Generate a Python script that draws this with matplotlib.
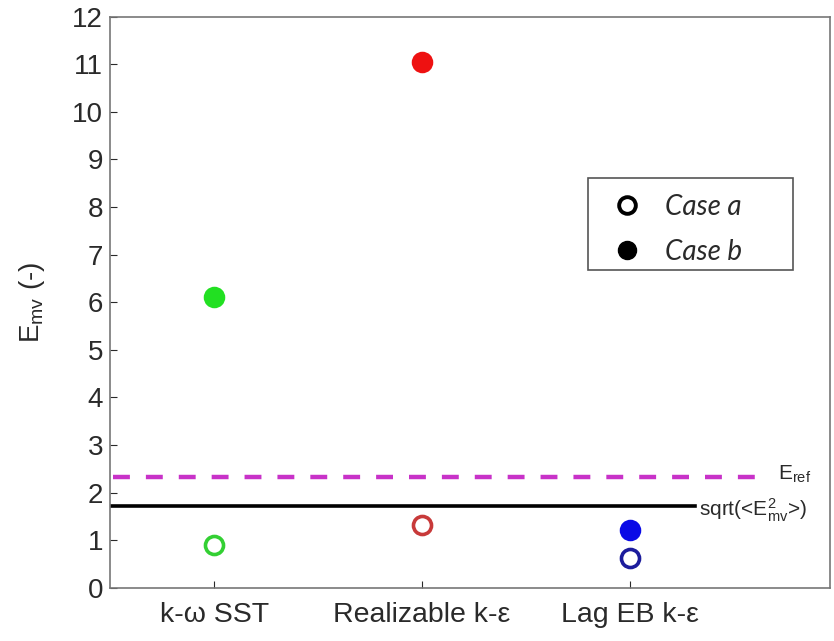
import matplotlib
matplotlib.use("Agg")
import matplotlib.pyplot as plt
from matplotlib.lines import Line2D
from matplotlib.patches import Rectangle

models = ["k-ω SST", "Realizable k-ε", "Lag EB k-ε"]
case_a = [0.90, 1.31, 0.63]
case_b = [6.11, 11.05, 1.21]
fill_colors = ["#22e022", "#ee1111", "#0a0ae6"]
edge_colors_a = ["#33d033", "#c83a3a", "#1c1c9c"]
e_ref = 2.32
e_rms = 1.71

plt.rcParams['font.family'] = ['Liberation Sans', 'DejaVu Sans']
plt.rcParams['mathtext.fontset'] = 'custom'
plt.rcParams['mathtext.rm'] = 'Liberation Sans'
plt.rcParams['mathtext.it'] = 'Liberation Sans:italic'

txt = '#2a2a2a'
fig = plt.figure(figsize=(8.34, 6.41), dpi=100)
ax = fig.add_axes([0.132, 0.083, 0.863, 0.891])

x = [1, 2, 3]
for xi, a, b, fc, ec in zip(x, case_a, case_b, fill_colors, edge_colors_a):
    ax.plot(xi, b, 'o', ms=14, mfc=fc, mec=fc, mew=1.5, zorder=3)
    ax.plot(xi, a, 'o', ms=13, mfc='white', mec=ec, mew=2.6, zorder=3)

ax.plot([0.515, 3.67], [e_ref, e_ref], ls=(0, (3.8, 3.6)), color='#c832c8', lw=3.2, zorder=2)
ax.plot([0.5, 3.31], [e_rms, e_rms], color='black', lw=2.6, zorder=2)
ax.text(3.71, e_ref - 0.17, r'E$_{\mathrm{ref}}$', fontsize=15, ha='left', va='bottom', color=txt)
ax.text(3.33, e_rms - 0.08, r'sqrt(<E$^{2}_{\mathrm{mv}}$>)', fontsize=15, ha='left', va='center', color=txt)

ax.set_xlim(0.5, 3.96)
ax.set_ylim(0, 12)
ax.set_xticks(x)
ax.set_xticklabels(models, fontsize=20.5, color=txt)
ax.set_yticks(range(0, 13))
ax.tick_params(axis='y', labelsize=20, colors=txt, direction='in', length=5, width=0.8, pad=5)
ax.tick_params(axis='x', colors=txt, direction='in', length=5, width=0.8, pad=10)
for s in ax.spines.values():
    s.set_color('#777777')
    s.set_linewidth(1.2)
ax.set_ylabel(r'E$_{\mathrm{mv}}$ (-)', fontsize=20, color=txt, labelpad=18)

# legend frame
ax.add_patch(Rectangle((0.664, 0.557), 0.285, 0.161, transform=ax.transAxes,
                       facecolor='white', edgecolor='#555555', lw=1.2, zorder=4))
handles = [Line2D([], [], ls='none', marker='o', ms=12, mfc='white', mec='black', mew=2.8),
           Line2D([], [], ls='none', marker='o', ms=13, mfc='black', mec='black')]
leg = ax.legend(handles, ['Case a', 'Case b'], loc='upper left', bbox_to_anchor=(0.6875, 0.690),
                prop={'family': 'Lato', 'style': 'italic', 'size': 20}, frameon=False,
                borderpad=0.0, labelspacing=0.7, handletextpad=0.58,
                borderaxespad=0, handlelength=1.6)
leg.set_zorder(5)
for t in leg.get_texts():
    t.set_color(txt)

fig.savefig("out.png", dpi=100)
